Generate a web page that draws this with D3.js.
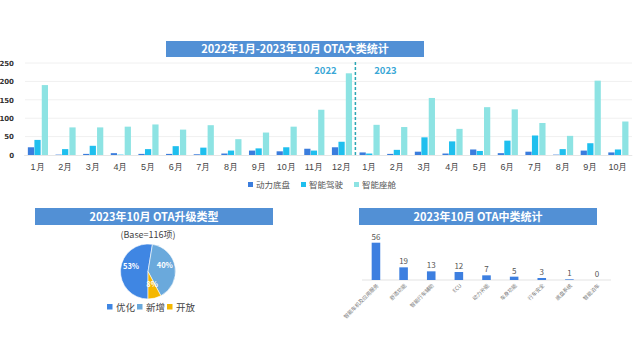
<!DOCTYPE html>
<html>
<head>
<meta charset="utf-8">
<script src="https://cdn.jsdelivr.net/npm/d3@7"></script>
<style>
  body { margin: 0; background: #fff; }
  svg { font-family: "Noto Sans CJK SC", "Noto Sans", sans-serif; }
</style>
</head>
<body>
<svg id="chart" width="640" height="360"></svg>
<script>
// 月份 (2022年1月 - 2023年10月)
const months = ["1月","2月","3月","4月","5月","6月","7月","8月","9月","10月","11月","12月",
                "1月","2月","3月","4月","5月","6月","7月","8月","9月","10月"];
const seriesNames = ["动力底盘", "智能驾驶", "智能座舱"];
const chassis = [21, 1, 3, 5, 3, 3, 2, 4, 12, 10, 17, 21, 7, 3, 9, 4, 15, 5, 9, 1, 12, 7];
const driving = [41, 16, 25, 1, 16, 24, 20, 12, 18, 21, 12, 36, 4, 14, 48, 37, 11, 39, 53, 16, 32, 15];
const cockpit = [190, 75, 75, 77, 83, 69, 81, 43, 61, 77, 123, 222, 82, 76, 155, 71, 130, 124, 87, 52, 202, 91];
const yTicks = [0, 50, 100, 150, 200, 250];

// 升级类型
const pieNames = ["优化", "新增", "开放"];
const pieCounts = [61, 46, 9];

// 中类统计
const midNames = ["智能车机及应用服务", "舒适功能", "智能行车辅助", "ECU", "动力补能", "车身功能", "行车安全", "底盘系统", "智能泊车"];
const midValues = [56, 19, 13, 12, 7, 5, 3, 1, 0];

const colors = ["#3b7ddd", "#1fbfee", "#8de3e3"];
const pieColors = ["#3f86e3", "#6aa9dc", "#f5b700"];
const titleFill = "#5290d5";

const svg = d3.select("#chart");

function titleBox(x, y, w, h, text) {
  svg.append("rect").attr("x", x).attr("y", y).attr("width", w).attr("height", h).attr("fill", titleFill);
  svg.append("text").attr("x", x + w / 2).attr("y", y + h / 2 + 4)
    .attr("text-anchor", "middle").attr("fill", "#fff")
    .attr("font-size", 11).attr("font-weight", "bold").text(text);
}

// ---- 上方：大类统计 ----
titleBox(166, 41, 258, 16, "2022年1月-2023年10月 OTA大类统计");

const x0 = d3.scaleBand().domain(d3.range(months.length)).range([23.7, 631.8]).paddingInner(0.3).paddingOuter(0.15);
const x1 = d3.scaleBand().domain(d3.range(3)).range([0, x0.bandwidth()]).paddingInner(0.05);
const y = d3.scaleLinear().domain([0, 250]).range([155, 63]);

svg.append("g").selectAll("line").data(yTicks.slice(1)).join("line")
  .attr("x1", 25).attr("x2", 632)
  .attr("y1", d => y(d)).attr("y2", d => y(d))
  .attr("stroke", "#f0f0f0").attr("stroke-width", 1);

const yAxis = svg.append("g").attr("transform", "translate(14,0)")
  .call(d3.axisLeft(y).tickValues(yTicks).tickSize(0).tickPadding(0));
yAxis.select(".domain").remove();
yAxis.selectAll("text").attr("font-size", 7).attr("font-weight", "bold").attr("fill", "#333")
  .attr("font-family", "\"DejaVu Sans\", sans-serif");

const allSeries = [chassis, driving, cockpit];
const groups = svg.append("g").selectAll("g").data(months).join("g")
  .attr("transform", (d, i) => `translate(${x0(i)},0)`);
groups.selectAll("rect").data((d, i) => allSeries.map((s, k) => ({ k, v: s[i] }))).join("rect")
  .attr("x", d => x1(d.k) + (d.k === 2 ? 0.8 : 0))
  .attr("width", x1.bandwidth())
  .attr("y", d => y(d.v))
  .attr("height", d => y(0) - y(d.v))
  .attr("fill", d => colors[d.k]);

const xAxis = svg.append("g").attr("transform", "translate(0,155)")
  .call(d3.axisBottom(x0).tickFormat(i => months[i]).tickSize(0).tickPadding(9));
xAxis.select(".domain").attr("stroke", "#e6e6e6");
xAxis.selectAll("text").attr("font-size", 9).attr("fill", "#444");

// 年份分隔线
const sepX = x0.step() * 12 + 23.7;
svg.append("line").attr("x1", sepX).attr("x2", sepX).attr("y1", 62).attr("y2", 157)
  .attr("stroke", "#2aa6b5").attr("stroke-width", 1.5).attr("stroke-dasharray", "3,2");
svg.append("text").attr("x", sepX - 30).attr("y", 74).attr("text-anchor", "middle")
  .attr("font-size", 9.5).attr("font-weight", "bold").attr("fill", "#3aa7d6").text("2022");
svg.append("text").attr("x", sepX + 30).attr("y", 74).attr("text-anchor", "middle")
  .attr("font-size", 9.5).attr("font-weight", "bold").attr("fill", "#3aa7d6").text("2023");

// 图例
const legend = svg.append("g").attr("transform", "translate(248,187)");
seriesNames.forEach((name, i) => {
  const g = legend.append("g").attr("transform", `translate(${i * 53},0)`);
  g.append("rect").attr("x", 0).attr("y", -5).attr("width", 5).attr("height", 5).attr("fill", colors[i]);
  g.append("text").attr("x", 8).attr("y", 0.5).attr("font-size", 8.5).attr("fill", "#555").text(name);
});

// ---- 左下：升级类型饼图 ----
titleBox(35, 208, 238, 17, "2023年10月 OTA升级类型");
svg.append("text").attr("x", 148).attr("y", 238).attr("text-anchor", "middle")
  .attr("font-size", 9).attr("fill", "#444").text("(Base=116项)");

const total = d3.sum(pieCounts);
const pie = d3.pie().sort(null).startAngle(Math.PI).endAngle(3 * Math.PI);
const arcs = pie(pieCounts);
const arc = d3.arc().innerRadius(0).outerRadius(27.5);
const pieG = svg.append("g").attr("transform", "translate(148,271.5)");
pieG.selectAll("path").data(arcs).join("path")
  .attr("d", arc).attr("fill", (d, i) => pieColors[i]).attr("stroke", "#fff").attr("stroke-width", 0.6);
const labelArc = d3.arc().innerRadius(17).outerRadius(17);
pieG.selectAll("text").data(arcs).join("text")
  .attr("transform", d => {
    const c = labelArc.centroid(d);
    return `translate(${c[0]},${c[1] - 4})`;
  })
  .attr("text-anchor", "middle").attr("dy", 3)
  .attr("font-size", 7.5).attr("font-weight", "bold").attr("fill", "#fff")
  .text(d => Math.round(d.data / total * 100) + "%");

const pieLegend = svg.append("g").attr("transform", "translate(107,309)");
pieNames.forEach((name, i) => {
  const g = pieLegend.append("g").attr("transform", `translate(${i * 30},0)`);
  g.append("rect").attr("x", 0).attr("y", -5).attr("width", 5.5).attr("height", 5.5).attr("fill", pieColors[i]);
  g.append("text").attr("x", 9).attr("y", 1.5).attr("font-size", 9.5).attr("fill", "#444").text(name);
});

// ---- 右下：中类统计 ----
titleBox(359, 208, 238, 17, "2023年10月 OTA中类统计");

const xm = d3.scaleBand().domain(midNames).range([362, 611]).paddingInner(0.69).paddingOuter(0.35);
const ym = d3.scaleLinear().domain([0, 56]).range([280, 242.7]);

svg.append("line").attr("x1", 362).attr("x2", 611).attr("y1", 280).attr("y2", 280)
  .attr("stroke", "#e3e3e3");

svg.append("g").selectAll("rect").data(midValues).join("rect")
  .attr("x", (d, i) => xm(midNames[i]))
  .attr("width", xm.bandwidth())
  .attr("y", d => ym(d))
  .attr("height", d => ym(0) - ym(d))
  .attr("fill", "#3d7fe0");

svg.append("g").selectAll("text").data(midValues).join("text")
  .attr("x", (d, i) => xm(midNames[i]) + xm.bandwidth() / 2)
  .attr("y", d => ym(d) - 3)
  .attr("text-anchor", "middle").attr("font-size", 8).attr("fill", "#555").text(d => d);

svg.append("g").selectAll("text").data(midNames).join("text")
  .attr("transform", d => `translate(${xm(d) + xm.bandwidth() / 2 + 3},${286}) rotate(-45)`)
  .attr("text-anchor", "end").attr("font-size", 5.2).attr("fill", "#777").text(d => d);
</script>
</body>
</html>
